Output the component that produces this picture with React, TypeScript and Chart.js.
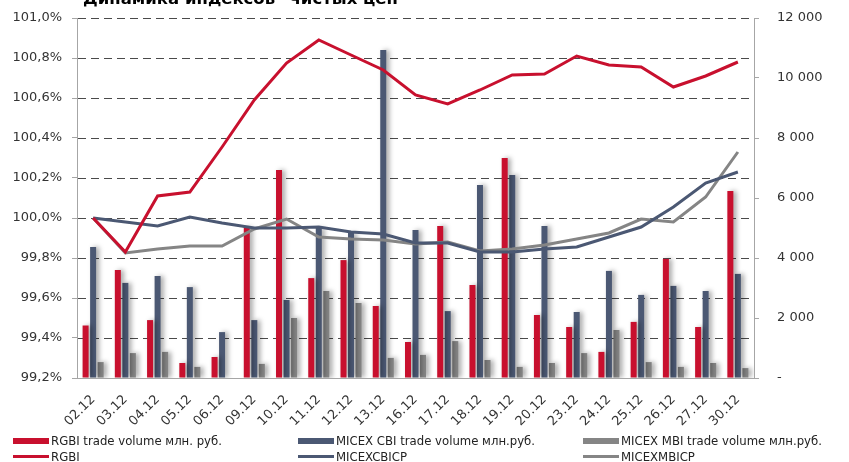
import React, { useEffect, useRef } from "react";
import { Chart, registerables } from "chart.js";

Chart.register(...registerables);

const categories = [
  "02.12", "03.12", "04.12", "05.12", "06.12", "09.12", "10.12", "11.12", "12.12", "13.12",
  "16.12", "17.12", "18.12", "19.12", "20.12", "23.12", "24.12", "25.12", "26.12", "27.12", "30.12",
];

// trade volumes, млн. руб. (right axis)
const rgbiVolume = [1750, 3600, 1930, 500, 700, 5030, 6930, 3330, 3930, 2400, 1200, 5070, 3100, 7330, 2100, 1700, 870, 1870, 3970, 1700, 6230];
const cbiVolume = [4370, 3170, 3400, 3030, 1530, 1930, 2600, 5000, 4830, 10930, 4930, 2230, 6430, 6770, 5070, 2200, 3570, 2770, 3070, 2900, 3470];
const mbiVolume = [530, 830, 870, 370, 0, 470, 2000, 2900, 2500, 670, 770, 1230, 600, 370, 500, 830, 1600, 530, 370, 500, 330];

// indices, % (left axis)
const rgbiIndex = [100.0, 99.83, 100.11, 100.13, 100.355, 100.59, 100.775, 100.89, 100.815, 100.74, 100.615, 100.57, 100.64, 100.715, 100.72, 100.81, 100.765, 100.755, 100.655, 100.71, 100.78];
const cbiIndex = [100.0, 99.98, 99.96, 100.005, 99.975, 99.95, 99.95, 99.955, 99.93, 99.92, 99.875, 99.875, 99.83, 99.83, 99.845, 99.855, 99.905, 99.955, 100.055, 100.175, 100.23];
const mbiIndex = [100.0, 99.825, 99.845, 99.86, 99.86, 99.945, 99.995, 99.905, 99.895, 99.89, 99.87, 99.88, 99.835, 99.845, 99.865, 99.895, 99.925, 99.995, 99.98, 100.105, 100.33];

const leftTickLabels = ["99,2%", "99,4%", "99,6%", "99,8%", "100,0%", "100,2%", "100,4%", "100,6%", "100,8%", "101,0%"];
const rightTickLabels = ["-", "2 000", "4 000", "6 000", "8 000", "10 000", "12 000"];

const TITLE = "Динамика индексов \"чистых цен\"";

const RED = "#C8102E";
const BLUE = "#4B5873";
const GRAY = "#858585";
const AXIS = "#A6A6A6";
const GRID = "#4a4a4a";
const FONT = "'DejaVu Sans', Verdana, sans-serif";

const legendItems = [
  { label: "RGBI trade volume млн. руб.", color: RED, kind: "bar", left: 13, top: 433 },
  { label: "MICEX CBI trade volume млн.руб.", color: BLUE, kind: "bar", left: 298, top: 433 },
  { label: "MICEX MBI trade volume млн.руб.", color: GRAY, kind: "bar", left: 583, top: 433 },
  { label: "RGBI", color: RED, kind: "line", left: 13, top: 449 },
  { label: "MICEXCBICP", color: BLUE, kind: "line", left: 298, top: 449 },
  { label: "MICEXMBICP", color: GRAY, kind: "line", left: 583, top: 449 },
];

// dashed horizontal grid at the left-axis ticks, painted behind everything already drawn
const dashedGrid = {
  id: "dashedGrid",
  afterDraw(chart: any) {
    const y = chart.scales.y;
    const { left, right } = chart.chartArea;
    const ctx = chart.ctx;
    ctx.save();
    ctx.globalCompositeOperation = "destination-over";
    ctx.globalAlpha = 1;
    ctx.shadowColor = "rgba(0,0,0,0)";
    ctx.shadowBlur = 0;
    ctx.strokeStyle = GRID;
    ctx.lineWidth = 1;
    ctx.setLineDash([8, 5]);
    ctx.lineDashOffset = 0;
    y.ticks.forEach((t: any, i: number) => {
      if (i === 0) return;
      const py = Math.round(y.getPixelForValue(t.value)) + 0.5;
      ctx.beginPath();
      ctx.moveTo(left + 1, py);
      ctx.lineTo(right, py);
      ctx.stroke();
    });
    ctx.restore();
  },
};

const barShadow = {
  id: "barShadow",
  beforeDatasetDraw(chart: any, args: any) {
    if (args.meta.type !== "bar") return;
    const ctx = chart.ctx;
    ctx.save();
    ctx.shadowColor = "rgba(0,0,0,0.35)";
    ctx.shadowBlur = 5;
    ctx.shadowOffsetX = 3;
  },
  afterDatasetDraw(chart: any, args: any) {
    if (args.meta.type !== "bar") return;
    chart.ctx.restore();
  },
};

export default function App() {
  const ref = useRef<HTMLCanvasElement | null>(null);

  useEffect(() => {
    if (!ref.current) return;
    const chart = new Chart(ref.current, {
      type: "bar",
      data: {
        labels: categories,
        datasets: [
          { type: "line", label: "RGBI", data: rgbiIndex, yAxisID: "y", borderColor: RED, borderWidth: 3, pointRadius: 0, order: 0 },
          { type: "line", label: "MICEXCBICP", data: cbiIndex, yAxisID: "y", borderColor: BLUE, borderWidth: 3, pointRadius: 0, order: 1 },
          { type: "line", label: "MICEXMBICP", data: mbiIndex, yAxisID: "y", borderColor: GRAY, borderWidth: 3, pointRadius: 0, order: 2 },
          { type: "bar", label: "RGBI trade volume млн. руб.", data: rgbiVolume, yAxisID: "y1", backgroundColor: RED, categoryPercentage: 0.7, barPercentage: 0.8, order: 3 },
          { type: "bar", label: "MICEX CBI trade volume млн.руб.", data: cbiVolume, yAxisID: "y1", backgroundColor: BLUE, categoryPercentage: 0.7, barPercentage: 0.8, order: 3 },
          { type: "bar", label: "MICEX MBI trade volume млн.руб.", data: mbiVolume, yAxisID: "y1", backgroundColor: GRAY, categoryPercentage: 0.7, barPercentage: 0.8, order: 3 },
        ] as any,
      },
      options: {
        animation: false,
        responsive: false,
        devicePixelRatio: 1,
        layout: { padding: { top: 18, bottom: 34, left: 0, right: 0 } },
        plugins: { legend: { display: false }, tooltip: { enabled: false } },
        scales: {
          x: {
            offset: true,
            grid: { display: false },
            border: { color: AXIS },
            ticks: {
              maxRotation: 45,
              minRotation: 45,
              autoSkip: false,
              padding: 6,
              color: "#333",
              font: { family: FONT, size: 13 },
            },
            afterFit: (s: any) => { s.height = 50; },
          },
          y: {
            position: "left",
            min: 99.2,
            max: 101.0,
            ticks: {
              stepSize: 0.2,
              padding: 10,
              color: "#333",
              font: { family: FONT, size: 13 },
              callback: (_v: any, i: number) => leftTickLabels[i],
            },
            grid: { drawOnChartArea: false, color: AXIS, tickColor: AXIS, tickLength: 5 },
            border: { color: AXIS },
            afterFit: (s: any) => { s.width = 77; },
          },
          y1: {
            position: "right",
            min: 0,
            max: 12000,
            ticks: {
              stepSize: 2000,
              padding: 18,
              color: "#333",
              font: { family: FONT, size: 13 },
              callback: (_v: any, i: number) => rightTickLabels[i],
            },
            grid: { drawOnChartArea: false, tickLength: 5, color: AXIS },
            border: { color: AXIS },
            afterFit: (s: any) => { s.width = 95; s.paddingTop = 0; s.paddingBottom = 0; },
          },
        },
      } as any,
      plugins: [dashedGrid, barShadow],
    });
    return () => chart.destroy();
  }, []);

  return (
    <div style={{ position: "fixed", left: 0, top: 0, width: 849, height: 462, overflow: "hidden", background: "#fff" }}>
      <canvas ref={ref} width={849} height={462} style={{ position: "absolute", left: 0, top: 0, width: 849, height: 462 }} />
      <div
        style={{
          position: "absolute",
          left: 83,
          top: -11,
          font: `bold 16.5px ${FONT}`,
          color: "#000",
          whiteSpace: "nowrap",
        }}
      >
        {TITLE}
      </div>
      {legendItems.map((it) => (
        <div
          key={it.label}
          style={{
            position: "absolute",
            left: it.left,
            top: it.top,
            height: 15,
            display: "flex",
            alignItems: "center",
            whiteSpace: "nowrap",
            font: "13px 'DejaVu Sans Condensed', 'DejaVu Sans', sans-serif",
            color: "#222",
          }}
        >
          <span style={{ display: "inline-block", width: 36, height: it.kind === "bar" ? 6 : 3, background: it.color, marginRight: 2 }} />
          <span>{it.label}</span>
        </div>
      ))}
    </div>
  );
}
